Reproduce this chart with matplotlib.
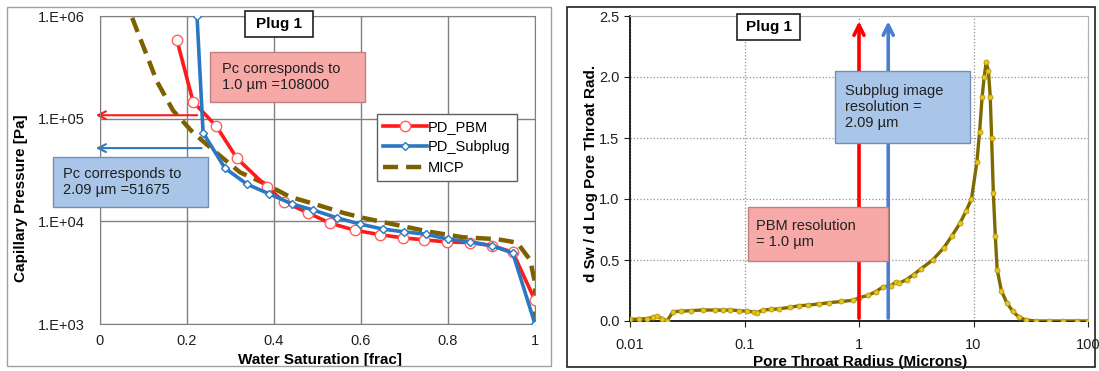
import matplotlib.pyplot as plt
from matplotlib.patches import Rectangle

plt.rcParams['font.family'] = ['Liberation Sans', 'DejaVu Sans']

# ---- left panel data: capillary pressure curves
sw_pbm = [0.177, 0.214, 0.267, 0.315, 0.384, 0.423, 0.478, 0.529, 0.586, 0.644,
          0.697, 0.745, 0.798, 0.851, 0.901, 0.949, 1.0]
pc_pbm = [5.8e5, 1.46e5, 8.5e4, 4.1e4, 2.16e4, 1.55e4, 1.21e4, 9.6e3, 8.2e3, 7.4e3,
          6.9e3, 6.6e3, 6.3e3, 6.2e3, 5.8e3, 5.0e3, 1.7e3]
sw_sub = [0.223, 0.237, 0.287, 0.338, 0.389, 0.441, 0.490, 0.545, 0.598, 0.651,
          0.699, 0.749, 0.800, 0.851, 0.901, 0.949, 1.0]
pc_sub = [1.0e6, 7.3e4, 3.3e4, 2.3e4, 1.85e4, 1.48e4, 1.29e4, 1.08e4, 9.4e3, 8.4e3,
          7.9e3, 7.5e3, 6.7e3, 6.3e3, 5.8e3, 4.9e3, 1.0e3]
sw_micp = [0.074, 0.131, 0.168, 0.214, 0.269, 0.322, 0.375, 0.437, 0.499, 0.559,
           0.605, 0.683, 0.759, 0.834, 0.913, 0.959, 0.989, 1.0, 1.0]
pc_micp = [9.6e5, 2.3e5, 1.2e5, 7.3e4, 4.6e4, 3.0e4, 2.37e4, 1.73e4, 1.45e4, 1.21e4,
           1.08e4, 9.2e3, 7.9e3, 7.0e3, 6.7e3, 6.2e3, 4.2e3, 2.5e3, 1.0e3]
pc_pbm_res = 108000
pc_sub_res = 51675

# ---- right panel data: pore throat distribution
radius = [0.010, 0.012, 0.014, 0.016, 0.0172, 0.019, 0.021, 0.0238, 0.028, 0.034,
          0.043, 0.055, 0.065, 0.075, 0.09, 0.105, 0.12, 0.128, 0.145, 0.17,
          0.2, 0.25, 0.3, 0.36, 0.45, 0.55, 0.7, 0.89, 1.0, 1.2,
          1.4, 1.62, 1.9, 2.1, 2.25, 2.6, 3.0, 3.5, 4.4, 5.5,
          6.5, 7.6, 8.6, 9.6, 10.7, 11.3, 11.9, 12.4, 12.9, 13.5,
          14.0, 14.4, 14.9, 15.5, 16.1, 17.5, 19.5, 22, 25, 29,
          35, 46, 60, 80, 100]
dsw = [0.014, 0.015, 0.02, 0.03, 0.04, 0.02, 0.0, 0.076, 0.08, 0.085,
       0.09, 0.09, 0.088, 0.09, 0.085, 0.08, 0.075, 0.068, 0.09, 0.095,
       0.10, 0.112, 0.125, 0.13, 0.14, 0.15, 0.16, 0.17, 0.19, 0.21,
       0.24, 0.28, 0.29, 0.32, 0.31, 0.34, 0.38, 0.43, 0.5, 0.6,
       0.7, 0.8, 0.9, 1.0, 1.3, 1.55, 1.84, 2.0, 2.12, 2.05,
       1.84, 1.5, 1.05, 0.7, 0.42, 0.25, 0.15, 0.08, 0.03, 0.008,
       0.0, 0.0, 0.0, 0.0, 0.0]
pbm_res = 1.0
sub_res = 1.8

W, H = 1099, 371
fig = plt.figure(figsize=(W / 100, H / 100), dpi=100)


def fig_rect(x0, y0, x1, y1, **kw):
    # rectangle given in pixel coords (top-left origin)
    r = Rectangle((x0 / W, 1 - y1 / H), (x1 - x0) / W, (y1 - y0) / H,
                  transform=fig.transFigure, **kw)
    fig.add_artist(r)
    return r


def fig_xy(x, y):
    return x / W, 1 - y / H


# panel frames
fig_rect(7, 7, 551, 366, fill=False, edgecolor='#a0a0a0', lw=1.0)
fig_rect(567, 7, 1095, 367, fill=False, edgecolor='#202020', lw=1.2)

# ================= left panel =================
ax1 = fig.add_axes([100 / W, 47 / H, 435 / W, 308 / H])
ax1.set_yscale('log')
ax1.set_xlim(0, 1)
ax1.set_ylim(1e3, 1e6)
ax1.set_xticks([0, 0.2, 0.4, 0.6, 0.8, 1.0])
ax1.set_xticklabels(['0', '0.2', '0.4', '0.6', '0.8', '1'])
ax1.set_yticks([1e3, 1e4, 1e5, 1e6])
ax1.set_yticklabels(['1.E+03', '1.E+04', '1.E+05', '1.E+06'])
ax1.minorticks_off()
ax1.tick_params(length=0, labelsize=10.5, colors='#202020')
ax1.tick_params(axis='y', pad=11)
ax1.tick_params(axis='x', pad=7)
ax1.grid(True, color='#808080', lw=1.0)
for s in ax1.spines.values():
    s.set_color('#808080')

ax1.plot(sw_micp, pc_micp, color='#7f6000', lw=3.2, dashes=(3.4, 1.8), label='MICP', zorder=3)
ax1.plot(sw_pbm, pc_pbm, color='#ff1a1a', lw=2.6, marker='o', ms=7.5,
         mfc='white', mec='#ff6060', mew=1.0, label='PD_PBM', zorder=4)
ax1.plot(sw_sub, pc_sub, color='#2a78c2', lw=2.6, marker='D', ms=4.5,
         mfc='white', mec='#2a78c2', mew=1.0, label='PD_Subplug', zorder=5)
h, lab = ax1.get_legend_handles_labels()
leg = ax1.legend([h[1], h[2], h[0]], [lab[1], lab[2], lab[0]], loc='upper left',
                 bbox_to_anchor=(0.637, 0.682), fontsize=10.5, handlelength=3.0,
                 handletextpad=0.1, labelspacing=0.45, borderpad=0.4, fancybox=False,
                 framealpha=1, edgecolor='#606060', borderaxespad=0)
leg.get_frame().set_linewidth(1.0)

ax1.annotate('', xy=(-0.016, pc_pbm_res), xytext=(0.23, pc_pbm_res),
             arrowprops=dict(arrowstyle='->', color='#ff1a1a', lw=1.5,
                             mutation_scale=14), annotation_clip=False, zorder=2)
ax1.annotate('', xy=(-0.016, pc_sub_res), xytext=(0.24, pc_sub_res),
             arrowprops=dict(arrowstyle='->', color='#2a78c2', lw=1.5,
                             mutation_scale=14), annotation_clip=False, zorder=2)

ax1.set_xlabel('Water Saturation [frac]', fontsize=11, fontweight='bold', va='top')
ax1.xaxis.set_label_coords(0.505, -0.093)
ax1.set_ylabel('Capillary Pressure [Pa]', fontsize=11, fontweight='bold')
ax1.yaxis.set_label_coords(-0.165, 0.41)

# text boxes left
fig_rect(245, 11, 313, 37, facecolor='white', edgecolor='#202020', lw=1.2, zorder=6)
fig.text(*fig_xy(279, 24), 'Plug 1', fontsize=11, fontweight='bold', ha='center',
         va='center', zorder=7)
fig_rect(210, 52, 365, 102, facecolor='#f7a9a8', edgecolor='#c08080', lw=1.0, zorder=6)
fig.text(*fig_xy(222, 77), 'Pc corresponds to\n1.0 \u00b5m =108000', fontsize=10.5,
         ha='left', va='center', linespacing=1.15, color='#202020', zorder=7)
fig_rect(53, 157, 208, 207, facecolor='#a9c6e8', edgecolor='#7090b8', lw=1.0, zorder=6)
fig.text(*fig_xy(63, 182), 'Pc corresponds to\n2.09 \u00b5m =51675', fontsize=10.5,
         ha='left', va='center', linespacing=1.15, color='#202020', zorder=7)

# ================= right panel =================
ax2 = fig.add_axes([630 / W, 50 / H, 458 / W, 305 / H])
ax2.set_xscale('log')
ax2.set_xlim(0.01, 100)
ax2.set_ylim(0, 2.5)
ax2.set_xticks([0.01, 0.1, 1, 10, 100])
ax2.set_xticklabels(['0.01', '0.1', '1', '10', '100'])
ax2.set_yticks([0, 0.5, 1.0, 1.5, 2.0, 2.5])
ax2.set_yticklabels(['0.0', '0.5', '1.0', '1.5', '2.0', '2.5'])
ax2.minorticks_off()
ax2.tick_params(direction='out', length=4, labelsize=10.5, colors='#202020')
ax2.tick_params(axis='x', pad=8)
ax2.grid(True, color='#909090', lw=0.9, ls=':')
ax2.spines['top'].set_color('#b0b0b0')
ax2.spines['right'].set_color('#b0b0b0')
ax2.spines['left'].set_linewidth(1.2)
ax2.spines['bottom'].set_linewidth(1.2)

ax2.plot(radius, dsw, color='#7f6a00', lw=2.4, marker='o', ms=3.6, mfc='#e6c619',
         mec='#b89a10', mew=0.6, zorder=3)

ax2.annotate('', xy=(pbm_res, 2.48), xytext=(pbm_res, 0),
             arrowprops=dict(arrowstyle='->', color='#ff0000', lw=2.6,
                             mutation_scale=18), zorder=4)
ax2.annotate('', xy=(sub_res, 2.48), xytext=(sub_res, 0),
             arrowprops=dict(arrowstyle='->', color='#4a7fd0', lw=2.6,
                             mutation_scale=18), zorder=4)

ax2.set_xlabel('Pore Throat Radius (Microns)', fontsize=11, fontweight='bold', va='top')
ax2.xaxis.set_label_coords(0.502, -0.11)
ax2.set_ylabel('d Sw / d Log Pore Throat Rad.', fontsize=11, fontweight='bold')
ax2.yaxis.set_label_coords(-0.07, 0.485)

fig_rect(737, 14, 800, 40, facecolor='white', edgecolor='#202020', lw=1.2, zorder=6)
fig.text(*fig_xy(768.5, 27), 'Plug 1', fontsize=11, fontweight='bold', ha='center',
         va='center', zorder=7)
fig_rect(748, 207, 888, 261, facecolor='#f7a9a8', edgecolor='#c08080', lw=1.0, zorder=6)
fig.text(*fig_xy(756, 234), 'PBM resolution\n= 1.0 \u00b5m', fontsize=10.5,
         ha='left', va='center', linespacing=1.15, color='#202020', zorder=7)
fig_rect(835, 71, 970, 143, facecolor='#a9c6e8', edgecolor='#7090b8', lw=1.0, zorder=6)
fig.text(*fig_xy(845, 107), 'Subplug image\nresolution =\n2.09 \u00b5m', fontsize=10.5,
         ha='left', va='center', linespacing=1.15, color='#202020', zorder=7)

fig.savefig('out.png', dpi=100)
